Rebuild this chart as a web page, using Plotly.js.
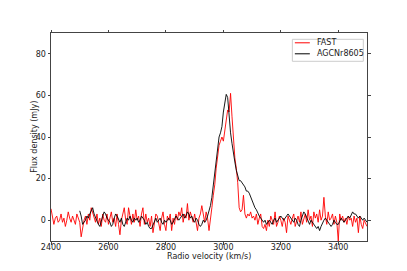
<!DOCTYPE html>
<html><head><meta charset="utf-8">
<script src="https://cdn.plot.ly/plotly-3.0.1.min.js"></script>
<style>html,body{margin:0;padding:0;background:#fff;}#plot{width:407px;height:271px;}</style>
</head><body><div id="plot"></div>
<script>
// FAST spectrum: velocity start/step (km/s) and flux (mJy)
const fastStart = 2400, fastStep = 5;
const fastFlux = [
 5.5, 2, -2, 1, 2, -1, 0, 3, -1, 1,
 -3, 0, 4, 1, -1, 2, 0, -2, 3, 1,
 -1, -8, -3, 0, 2, -2, 3, 0, 6, 4,
 2, -1, 3, -2, 1, -3, 3, 0, -1, 3,
 -2, 2, 4, -1, 1, -3, 3, -2, -7, 0,
 3, 6, 0, -2, 6, 2, -2, 3, -1, 5,
 0, 2, -3, 3, 6, -2, 3, -1, 1, -3,
 2, -6, 0, 3, 2, -1, -5, 1, 4, -2,
 -5, 2, 0, 3, -5, 1, -2, 3, 0, 4,
 2, 6, -1, 3, 1, 8, 0, 4, 2, -1,
 3, -2, -5, 1, 3, 7, 2, -1, 4, 1,
 -5, 2, 6, 12, 17, 25, 30, 36, 38, 40,
 38, 43, 47, 53, 52, 61, 50, 38, 30, 25,
 18, 6, 4, 5, 12, 3, 1, 3, 2, 4,
 1, 2, 0, 3, -2, 1, 3, -3, -4, -2,
 -5, 0, -3, 2, 0, -2, 4, -3, -1, 2,
 0, -3, 1, -1, -6, 2, 0, -2, 1, 3,
 -3, 0, 2, -1, 4, -2, 0, 3, -1, 5,
 0, 2, -3, 4, 1, 3, -1, 5, 0, 2,
 11, 2, -2, 4, 0, 1, 3, -2, 2, -1,
 -10, 3, 0, 2, -1, 1, -2, 2, 0, 1,
 -3, 2, -1, 1, -6, 2, -2, -4, 0, -2,
 -3
];
// AGCNr8605 spectrum
const agcStart = 2500, agcStep = 5;
const agcFlux = [
 4.5, 2, -2, -1, 0, 2, 1, 3, 5, 6,
 3, 1, 0, -2, -3, 0, 2, 4, 3, 1,
 0, -1, -3, -2, 1, 3, 2, 0, -1, 1,
 -2, -3, -1, 1, 0, 2, 0, -1, 1, 0,
 1, -1, 0, 2, 1, 0, -2, -1, -3, -4,
 -4, -2, 0, 1, -1, 0, 1, -1, -2, 0,
 -1, 0, 1, 0, -2, -1, 1, 2, 1, 0,
 1, 2, 3, 1, 2, 4, 3, 1, 2, 0,
 -1, 1, 0, -2, -3, -2, 0, -1, 0, 2,
 4, 7, 11, 17, 24, 31, 37, 40, 42, 45,
 52, 57, 60.5, 59, 50, 42, 37, 31, 28, 24,
 22, 19, 19, 18, 17, 16, 14, 14, 13, 11,
 10, 8, 6, 5, 3, 2, 1, 0, -1, 0,
 -2, -1, 0, -1, -2, 0, 1, -1, 0, 1,
 2, 1, 0, 1, 2, 3, 2, 1, 0, -1,
 1, 0, -2, -3, 0, 2, 4, 3, 1, -1,
 -2, 0, -1, -2, -3, -4, -3, -5, -3, -1,
 0, 1, 0, -1, -2, -3, -2, 0, -1, -2,
 -2, 0, 1, 0, -1, 0, 1, 2, 1, 3,
 4, 3, 3, 2, 1, 2, 1, 0, 1, 0,
 -1
];
const seriesNames = ["FAST", "AGCNr8605"];
const seriesColors = ["#ff0000", "#000000"];
const xTicks = [2400, 2600, 2800, 3000, 3200, 3400];
const yTicks = [0, 20, 40, 60, 80];
const xTitle = "Radio velocity (km/s)";
const yTitle = "Flux density (mJy)";

const fastV = fastFlux.map((_, i) => fastStart + i * fastStep);
const agcV = agcFlux.map((_, i) => agcStart + i * agcStep);

// plot-area geometry in pixels (layout only)
const W = 407, H = 271, L = 50.5, R = 366.7, T = 32.7, B = 240.7;
const px = p => (p - L) / (R - L);
const py = p => (B - p) / (B - T);

const font = {family: "DejaVu Sans", size: 8, color: "#222"};
const axisCommon = {
  showgrid: false, zeroline: false, showline: true, linecolor: "#444", linewidth: 1,
  mirror: "ticks", ticks: "outside", ticklen: 2.5, tickwidth: 1, tickcolor: "#444",
  tickfont: font
};

// legend drawn as box + line samples + text
const shapes = [{type: "rect", xref: "paper", yref: "paper",
  x0: px(292), x1: px(363), y0: py(61), y1: py(39),
  line: {color: "#cccccc", width: 1}, fillcolor: "#ffffff", layer: "above"}];
const annotations = [];
const rowY = [42.5, 53.5];
seriesNames.forEach((n, i) => {
  shapes.push({type: "line", xref: "paper", yref: "paper",
    x0: px(294.5), x1: px(309.5), y0: py(rowY[i]), y1: py(rowY[i]),
    line: {color: seriesColors[i], width: 1}, layer: "above"});
  annotations.push({xref: "paper", yref: "paper", x: px(315), y: py(rowY[i]),
    xanchor: "left", yanchor: "middle", showarrow: false, text: n,
    font: {family: "DejaVu Sans", size: 8, color: "#222"}});
});
// axis titles
annotations.push({xref: "paper", yref: "paper", x: px(208.5), y: py(256.5),
  xanchor: "center", yanchor: "middle", showarrow: false, text: xTitle,
  font: {family: "DejaVu Sans", size: 8, color: "#222"}});
annotations.push({xref: "paper", yref: "paper", x: px(34), y: py(137),
  xanchor: "center", yanchor: "middle", showarrow: false, text: yTitle, textangle: -90,
  font: {family: "DejaVu Sans", size: 8, color: "#222"}});

Plotly.newPlot("plot", [
  {x: fastV, y: fastFlux, type: "scatter", mode: "lines", name: seriesNames[0],
   line: {color: seriesColors[0], width: 0.9}},
  {x: agcV, y: agcFlux, type: "scatter", mode: "lines", name: seriesNames[1],
   line: {color: seriesColors[1], width: 0.9}}
], {
  width: W, height: H,
  margin: {l: L, r: W - R, t: T, b: H - B},
  paper_bgcolor: "#fff", plot_bgcolor: "#fff",
  font: font,
  showlegend: false,
  shapes: shapes,
  annotations: annotations,
  xaxis: Object.assign({}, axisCommon, {range: [2400, 3500], tickvals: xTicks,
    ticklabelstandoff: -4}),
  yaxis: Object.assign({}, axisCommon, {range: [-10, 90], tickvals: yTicks})
}, {staticPlot: true, displayModeBar: false});
</script></body></html>
